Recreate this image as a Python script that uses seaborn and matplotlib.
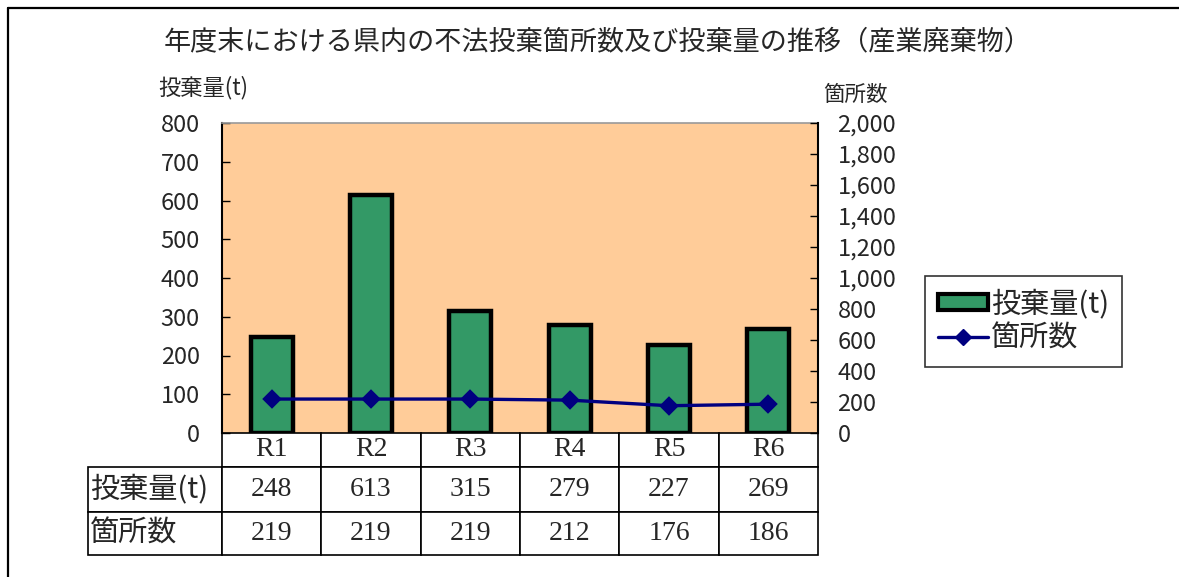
import matplotlib
matplotlib.use("Agg")
import matplotlib.pyplot as plt
import seaborn as sns
import numpy as np
import pandas as pd
from matplotlib.patches import Patch
from matplotlib.lines import Line2D
from matplotlib.ticker import FuncFormatter, MultipleLocator

# ---- data ----
categories = ["R1", "R2", "R3", "R4", "R5", "R6"]
amount_t = [248, 613, 315, 279, 227, 269]
sites = [219, 219, 219, 212, 176, 186]
title = "年度末における県内の不法投棄箇所数及び投棄量の推移（産業廃棄物）"
left_label = "投棄量(t)"
right_label = "箇所数"
row_labels = ["投棄量(t)", "箇所数"]

# ---- style ----
sns.set_theme(style="white")
plt.rcParams["font.family"] = ["Noto Sans CJK JP", "DejaVu Sans"]

GREEN = "#339966"
NAVY = "#000080"
PEACH = "#FFCC99"

W, H = 1179, 577
fig = plt.figure(figsize=(W / 100, H / 100), dpi=100)
fig.patch.set_facecolor("white")

# plot area in pixel coordinates
x0, x1, y0, y1 = 222, 818, 123, 433
ax = fig.add_axes([x0 / W, 1 - y1 / H, (x1 - x0) / W, (y1 - y0) / H])
ax.set_facecolor(PEACH)

df = pd.DataFrame({"cat": categories, "amount": amount_t, "sites": sites})

sns.barplot(data=df, x="cat", y="amount", ax=ax, color=GREEN,
            edgecolor="black", linewidth=3.2, width=0.42, saturation=1)
ax.set_ylim(0, 800)
ax.yaxis.set_major_locator(MultipleLocator(100))
ax.set_xlim(-0.5, 5.5)

ax2 = ax.twinx()
sns.pointplot(data=df, x="cat", y="sites", ax=ax2, color=NAVY, markers="D",
              errorbar=None, markersize=8, linewidth=2.4)
ax2.set_ylim(0, 2000)
ax2.yaxis.set_major_locator(MultipleLocator(200))
ax2.yaxis.set_major_formatter(FuncFormatter(lambda v, p: f"{int(v):,}"))
ax.set_xlim(-0.5, 5.5)

for a in (ax, ax2):
    a.set_xlabel("")
    a.set_ylabel("")
    a.tick_params(axis="x", bottom=False, labelbottom=False)
    a.grid(False)

ax.tick_params(axis="y", direction="in", length=6, width=1, color="black",
               labelsize=17, pad=16, left=True)
ax2.tick_params(axis="y", direction="in", length=6, width=1, color="black",
                labelsize=17, pad=14, right=True)

for s in ["top", "right", "bottom", "left"]:
    ax.spines[s].set_visible(False)
    ax2.spines[s].set_visible(False)
ax.spines["left"].set_visible(True)
ax.spines["left"].set_color("black")
ax.spines["left"].set_linewidth(1.5)
ax.spines["top"].set_visible(True)
ax.spines["top"].set_color("#999999")
ax.spines["top"].set_linewidth(1.2)
ax2.spines["right"].set_visible(True)
ax2.spines["right"].set_color("black")
ax2.spines["right"].set_linewidth(1.5)

# ---- data table ----
lab_w = 134
tw = (x1 - x0)
row_h = [34, 45, 43]
cell_text = [[""] + categories,
             [row_labels[0]] + [str(v) for v in amount_t],
             [row_labels[1]] + [str(v) for v in sites]]
tbl_h = sum(row_h)
col_w = [lab_w / tw] + [1 / 6] * 6
tbl = ax.table(cellText=cell_text, colWidths=col_w, cellLoc="center",
               bbox=[-lab_w / tw, -tbl_h / (y1 - y0), (tw + lab_w) / tw, tbl_h / (y1 - y0)])
tbl.auto_set_font_size(False)
tbl.set_fontsize(19)
for (r, c), cell in tbl.get_celld().items():
    cell.set_height(row_h[r] / (y1 - y0))
    cell.set_edgecolor("black")
    cell.set_linewidth(1.2)
    cell.set_facecolor("white")
    if c == 0:
        cell.PAD = 0.015
        cell.get_text().set_ha("left")
        cell._loc = "left"
        cell.get_text().set_fontsize(21)
        if r == 0:
            cell.visible_edges = ""
    else:
        cell.get_text().set_fontfamily(["Liberation Serif", "DejaVu Serif"])
        cell.get_text().set_fontsize(20)

# ---- texts ----
fig.text(598 / W, 1 - 42 / H, title, ha="center", va="center", fontsize=19.5)
fig.text(203 / W, 1 - 88 / H, left_label, ha="center", va="center", fontsize=16)
fig.text(855 / W, 1 - 95 / H, right_label, ha="center", va="center", fontsize=15.5)

# ---- legend ----
handles = [Patch(facecolor=GREEN, edgecolor="black", linewidth=3),
           Line2D([0], [0], color=NAVY, lw=2.4, marker="D", markersize=8)]
leg = fig.legend(handles, [left_label, right_label], loc="upper left",
                 bbox_to_anchor=(925 / W, 1 - 276 / H), fontsize=21,
                 frameon=True, fancybox=False, edgecolor="black",
                 borderaxespad=0, handlelength=1.7, handleheight=0.45,
                 handletextpad=0.1, borderpad=0.45, labelspacing=0.15)
leg.get_frame().set_linewidth(1.2)

# ---- figure border (top and left) ----
fig.add_artist(Line2D([8 / W, 1], [1 - 8 / H, 1 - 8 / H], color="black", lw=1.6,
                      transform=fig.transFigure))
fig.add_artist(Line2D([8 / W, 8 / W], [0, 1 - 8 / H], color="black", lw=1.6,
                      transform=fig.transFigure))

fig.savefig("out.png", dpi=100)
